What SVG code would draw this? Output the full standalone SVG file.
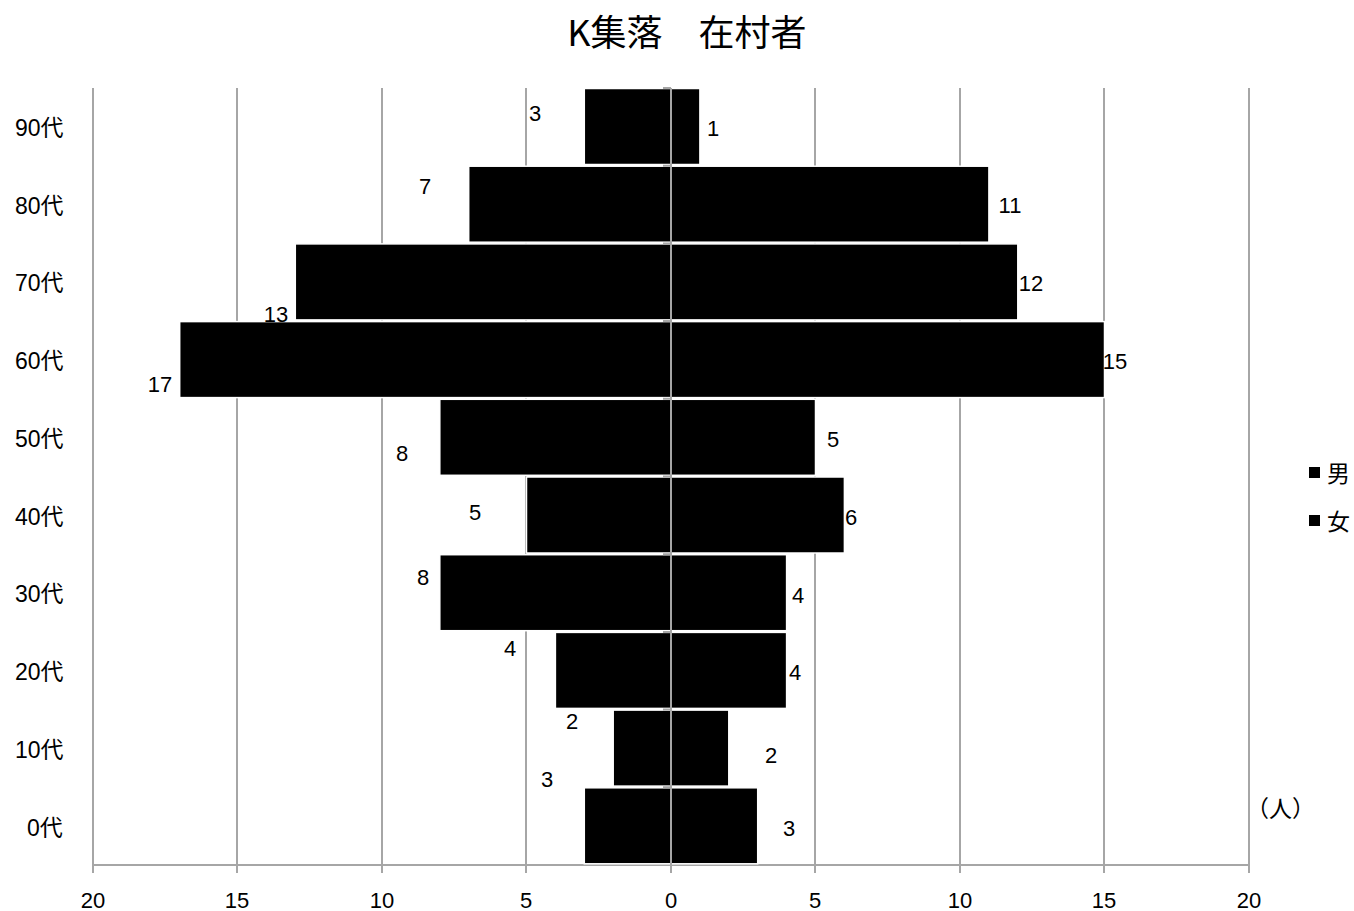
<svg xmlns="http://www.w3.org/2000/svg" width="1354" height="911" viewBox="0 0 1354 911">
<style>
.grid{stroke:#a6a6a6;stroke-width:2;fill:none}
.bar{fill:#000;stroke:#fff;stroke-width:1.5}
.t{font-family:"Liberation Sans","Noto Sans CJK JP",sans-serif;font-size:22px;fill:#000}
.y{font-family:"Liberation Sans","Noto Sans CJK JP",sans-serif;font-size:23px;fill:#000}
.title{font-family:"Noto Sans CJK JP",sans-serif;font-size:36px;fill:#000}
</style>
<rect width="1354" height="911" fill="#fff"/>
<text class="title" x="687" y="46" text-anchor="middle">K集落　在村者</text>
<g id="gridlines">
<path class="grid" d="M93 88V873M237 88V873M382 88V873M526 88V873M815 88V873M960 88V873M1104 88V873M1249 88V873M92 865H1250"/>
</g>
<g id="bars">
<rect class="bar" x="584.3" y="88.5" width="86.7" height="76"/>
<rect class="bar" x="671" y="88.5" width="28.9" height="76"/>
<rect class="bar" x="468.7" y="166.2" width="202.3" height="76"/>
<rect class="bar" x="671" y="166.2" width="317.9" height="76"/>
<rect class="bar" x="295.3" y="243.9" width="375.7" height="76"/>
<rect class="bar" x="671" y="243.9" width="346.8" height="76"/>
<rect class="bar" x="179.7" y="321.6" width="491.3" height="76"/>
<rect class="bar" x="671" y="321.6" width="433.5" height="76"/>
<rect class="bar" x="439.8" y="399.3" width="231.2" height="76"/>
<rect class="bar" x="671" y="399.3" width="144.5" height="76"/>
<rect class="bar" x="526.5" y="477" width="144.5" height="76"/>
<rect class="bar" x="671" y="477" width="173.4" height="76"/>
<rect class="bar" x="439.8" y="554.7" width="231.2" height="76"/>
<rect class="bar" x="671" y="554.7" width="115.6" height="76"/>
<rect class="bar" x="555.4" y="632.4" width="115.6" height="76"/>
<rect class="bar" x="671" y="632.4" width="115.6" height="76"/>
<rect class="bar" x="613.2" y="710.1" width="57.8" height="76"/>
<rect class="bar" x="671" y="710.1" width="57.8" height="76"/>
<rect class="bar" x="584.3" y="787.8" width="86.7" height="76"/>
<rect class="bar" x="671" y="787.8" width="86.7" height="76"/>
</g>
<g id="axis">
<path class="grid" d="M671 88V873M663 88H671M663 165.7H671M663 243.4H671M663 321.1H671M663 398.8H671M663 476.5H671M663 554.2H671M663 631.9H671M663 709.6H671M663 787.3H671"/>
</g>
<g id="datalabels" class="t" text-anchor="middle">
<text x="535" y="121">3</text>
<text x="713" y="136">1</text>
<text x="425" y="194">7</text>
<text x="1010" y="213">11</text>
<text x="276" y="322">13</text>
<text x="1031" y="291">12</text>
<text x="160" y="392">17</text>
<text x="1115" y="369">15</text>
<text x="402" y="461">8</text>
<text x="833" y="447">5</text>
<text x="475" y="520">5</text>
<text x="851" y="525">6</text>
<text x="423" y="585">8</text>
<text x="798" y="603">4</text>
<text x="510" y="656">4</text>
<text x="795" y="680">4</text>
<text x="572" y="729">2</text>
<text x="771" y="763">2</text>
<text x="547" y="787">3</text>
<text x="789" y="836">3</text>
</g>
<g id="ylabels" class="y">
<text x="15" y="136">90代</text>
<text x="15" y="214">80代</text>
<text x="15" y="291">70代</text>
<text x="15" y="369">60代</text>
<text x="15" y="447">50代</text>
<text x="15" y="525">40代</text>
<text x="15" y="602">30代</text>
<text x="15" y="680">20代</text>
<text x="15" y="758">10代</text>
<text x="27" y="836">0代</text>
</g>
<g id="xlabels" class="t" text-anchor="middle">
<text x="93" y="908">20</text>
<text x="237" y="908">15</text>
<text x="382" y="908">10</text>
<text x="526" y="908">5</text>
<text x="671" y="908">0</text>
<text x="815" y="908">5</text>
<text x="960" y="908">10</text>
<text x="1104" y="908">15</text>
<text x="1249" y="908">20</text>
</g>
<g id="legend">
<rect x="1309" y="467" width="11" height="11" fill="#000"/>
<text class="y" x="1327" y="482">男</text>
<rect x="1309" y="515" width="11" height="11" fill="#000"/>
<text class="y" x="1327" y="530">女</text>
</g>
<text class="y" x="1246" y="817" font-size="25">（人）</text>
</svg>
